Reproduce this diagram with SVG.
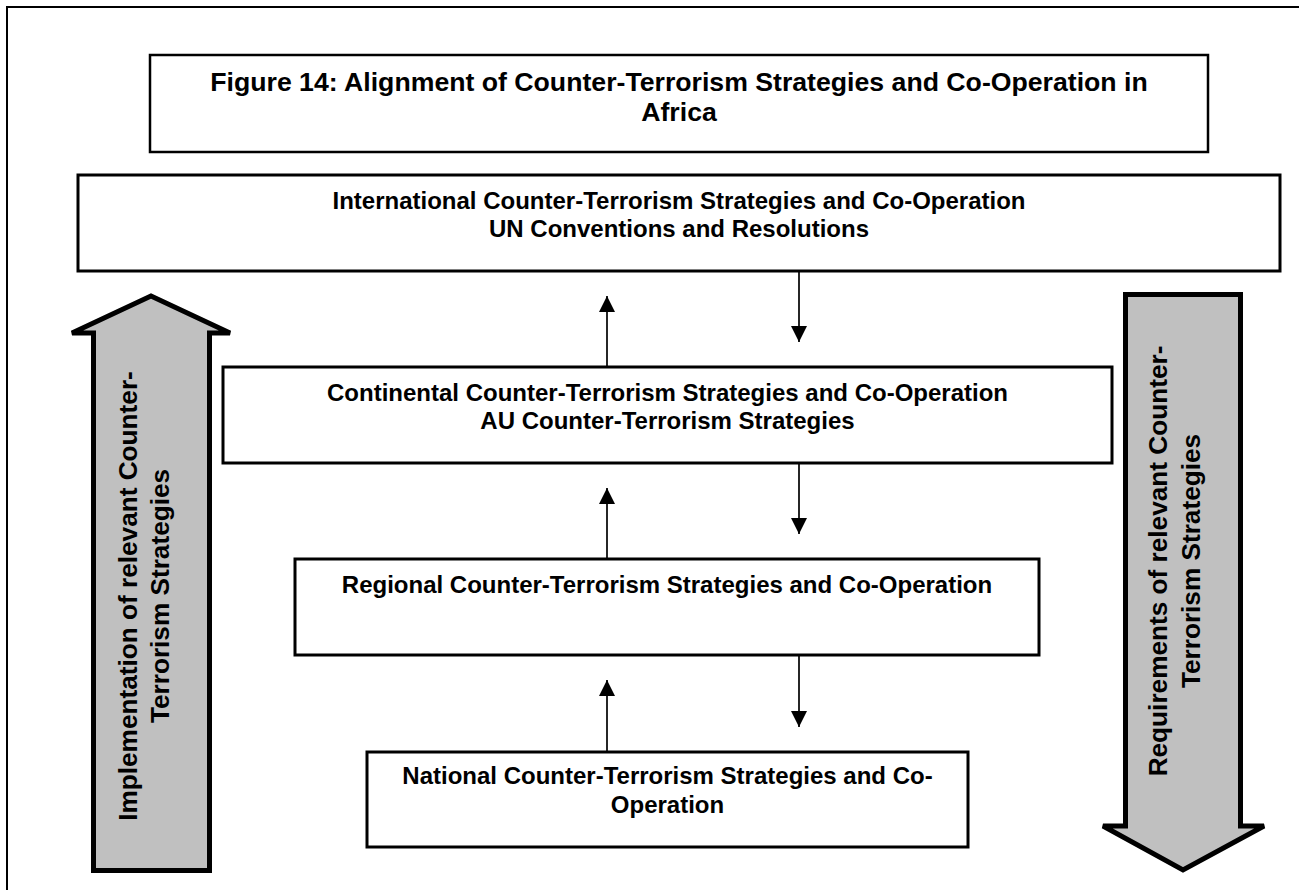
<svg xmlns="http://www.w3.org/2000/svg" width="1299" height="890" viewBox="0 0 1299 890">
<style>
text{font-family:"Liberation Sans",Arial,sans-serif;font-weight:bold;fill:#000;text-anchor:middle}
.t{font-size:26.67px}
.n{font-size:24px}
.v{font-size:26.2px}
.box{fill:#fff;stroke:#000;stroke-width:3}
.big{fill:#c0c0c0;stroke:#000;stroke-width:5;stroke-linejoin:miter}
.con{stroke:#000;stroke-width:1.7;fill:none;marker-end:url(#ah)}
</style>
<defs>
<marker id="ah" markerUnits="userSpaceOnUse" markerWidth="16" markerHeight="16" viewBox="0 0 16 16" refX="16" refY="8" orient="auto">
<path d="M0,0 L16,8 L0,16 z" fill="#000"/>
</marker>
</defs>
<rect x="7" y="7" width="1300" height="900" fill="#fff" stroke="#000" stroke-width="2"/>
<g id="title">
<rect x="150" y="55" width="1058" height="97" fill="#fff" stroke="#000" stroke-width="2.5"/>
<text class="t" x="679" y="91">Figure 14: Alignment of Counter-Terrorism Strategies and Co-Operation in</text>
<text class="t" x="679" y="121">Africa</text>
</g>
<g id="international">
<rect class="box" x="78" y="175" width="1202" height="96"/>
<text class="n" x="679" y="209">International Counter-Terrorism Strategies and Co-Operation</text>
<text class="n" x="679" y="237">UN Conventions and Resolutions</text>
</g>
<g id="continental">
<rect class="box" x="223" y="367" width="889" height="96"/>
<text class="n" x="667.5" y="401">Continental Counter-Terrorism Strategies and Co-Operation</text>
<text class="n" x="667.5" y="429">AU Counter-Terrorism Strategies</text>
</g>
<g id="regional">
<rect class="box" x="295" y="559" width="744" height="96"/>
<text class="n" x="667" y="593">Regional Counter-Terrorism Strategies and Co-Operation</text>
</g>
<g id="national">
<rect class="box" x="367" y="752" width="601" height="95"/>
<text class="n" x="667.5" y="784">National Counter-Terrorism Strategies and Co-</text>
<text class="n" x="667.5" y="813">Operation</text>
</g>
<g id="implementation-arrow">
<polygon class="big" points="151,296 230,333 209.5,333 209.5,870.5 93.5,870.5 93.5,333 72,333"/>
<text class="v" transform="translate(137,596) rotate(-90)">Implementation of relevant Counter-</text>
<text class="v" transform="translate(169,596) rotate(-90)">Terrorism Strategies</text>
</g>
<g id="requirements-arrow">
<polygon class="big" points="1125.5,294.5 1240.5,294.5 1240.5,826 1264,826 1183,870 1103,826 1125.5,826"/>
<text class="v" transform="translate(1167,561) rotate(-90)">Requirements of relevant Counter-</text>
<text class="v" transform="translate(1200,561) rotate(-90)">Terrorism Strategies</text>
</g>
<g id="connectors">
<line class="con" x1="607" y1="367" x2="607" y2="296"/>
<line class="con" x1="799" y1="271" x2="799" y2="342"/>
<line class="con" x1="607" y1="559" x2="607" y2="488"/>
<line class="con" x1="799" y1="463" x2="799" y2="534"/>
<line class="con" x1="607" y1="752" x2="607" y2="680"/>
<line class="con" x1="799" y1="655" x2="799" y2="727"/>
</g>
</svg>
